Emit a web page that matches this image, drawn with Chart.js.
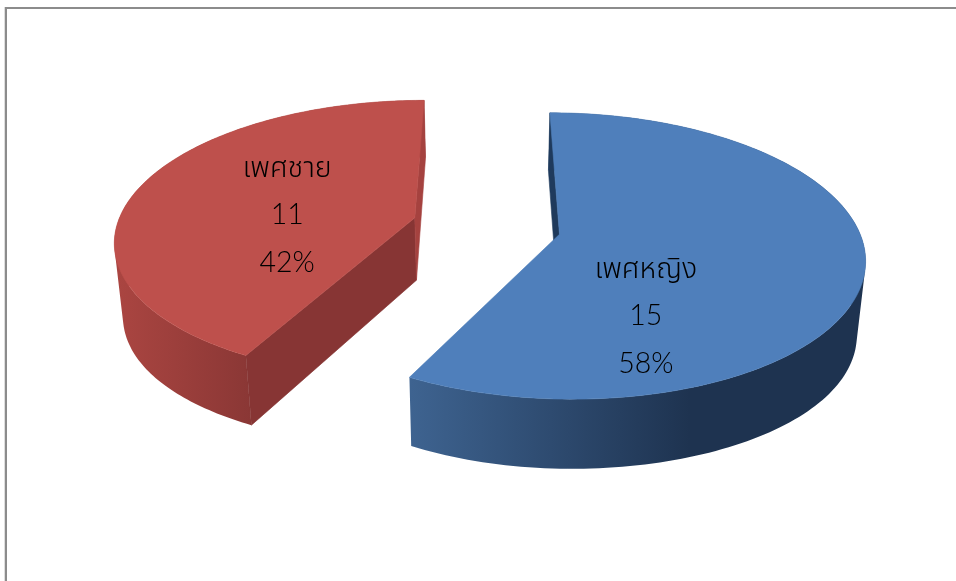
<!DOCTYPE html>
<html>
<head>
<meta charset="utf-8">
<style>
html,body{margin:0;padding:0;background:#fff;overflow:hidden}
#wrap{position:relative;width:956px;height:581px}
#frameTop{position:absolute;left:5px;right:0;top:7px;height:2px;background:#8c8c8c}
#frameLeft{position:absolute;left:5px;top:7px;bottom:0;width:2px;background:#8c8c8c;box-shadow:-1px 0 0 #dedede}
canvas{position:absolute;left:0;top:0}
</style>
<script src="https://cdn.jsdelivr.net/npm/chart.js@4"></script>
</head>
<body>
<div id="wrap">
<canvas id="c" width="956" height="581"></canvas>
<div id="frameTop"></div><div id="frameLeft"></div>
</div>
<script>
const categories = ['เพศหญิง', 'เพศชาย'];
const counts = [15, 11];
const percents = ['58%', '42%'];

const topColors = ['#4f7fbb', '#be504c'];
const startWallColors = ['#1f3a5c', '#873534'];
const endWallColors = [null, '#a5423f'];
const outerGradients = [
  {x0: 411, x1: 690, c0: '#3e6390', c1: '#1e3350'},
  {x0: 118, x1: 252, c0: '#aa4541', c1: '#8a3735'}
];
const labelAnchors = [{x: 0.487, y: -0.596}, {x: -0.677, y: 0.081}];

// Perspective camera for the tilted pie (radius-normalised pie coordinates → canvas)
const cam = {ox: 486.5, oy: 226, vy: -690, scale: 298, k: 0.15, explode: 0.25,
             depth: 62.6, depthPow: 0.61, bulge: 5.1, shrink: 0.977};

function project(X, Y, lower) {
  const w = 1 + cam.k * Y;
  let x = cam.ox + cam.scale * X / w;
  let y = cam.vy + (cam.oy - cam.vy) / w;
  if (lower) {
    x = cam.ox + (x - cam.ox) * cam.shrink;
    y += cam.depth / Math.pow(w, cam.depthPow) + cam.bulge * Math.pow(Math.abs(X), 3);
  }
  return [x, y];
}

function slicePoint(arc, angle, radius, lower) {
  const mid = (arc.startAngle + arc.endAngle) / 2;
  const X = cam.explode * Math.cos(mid) + radius * Math.cos(angle);
  const Y = -(cam.explode * Math.sin(mid) + radius * Math.sin(angle));
  return project(X, Y, lower);
}

function poly(ctx, pts, fill) {
  ctx.beginPath();
  pts.forEach((p, i) => i ? ctx.lineTo(p[0], p[1]) : ctx.moveTo(p[0], p[1]));
  ctx.closePath();
  ctx.fillStyle = fill;
  ctx.fill();
  ctx.strokeStyle = fill;
  ctx.lineWidth = 0.6;
  ctx.stroke();
}

function signedArea(q) {
  let a = 0;
  q.forEach((p, i) => {
    const r = q[(i + 1) % q.length];
    a += p[0] * r[1] - r[0] * p[1];
  });
  return a;
}

// Union of the swept rim quads in one path, so there are no seams between them
function sweep(ctx, up, low, fill) {
  ctx.beginPath();
  for (let n = 0; n < up.length - 1; n++) {
    let q = [up[n], up[n + 1], low[n + 1], low[n]];
    if (signedArea(q) < 0) q = q.reverse();
    q.forEach((p, i) => i ? ctx.lineTo(p[0], p[1]) : ctx.moveTo(p[0], p[1]));
    ctx.closePath();
  }
  ctx.fillStyle = fill;
  ctx.fill('nonzero');
}

function rim(arc, lower) {
  const pts = [];
  const n = 160;
  for (let i = 0; i <= n; i++) {
    pts.push(slicePoint(arc, arc.startAngle + (arc.endAngle - arc.startAngle) * i / n, 1, lower));
  }
  return pts;
}

const pie3d = {
  id: 'pie3d',
  beforeDatasetDraw(chart, args) {
    const ctx = chart.ctx;
    const arcs = chart.getDatasetMeta(args.index).data;
    ctx.save();
    arcs.forEach((arc, i) => {
      const a0 = slicePoint(arc, 0, 0, false), a1 = slicePoint(arc, 0, 0, true);
      const s0 = slicePoint(arc, arc.startAngle, 1, false), s1 = slicePoint(arc, arc.startAngle, 1, true);
      const e0 = slicePoint(arc, arc.endAngle, 1, false), e1 = slicePoint(arc, arc.endAngle, 1, true);
      // outer curved wall
      const g = outerGradients[i];
      const grad = ctx.createLinearGradient(g.x0, 0, g.x1, 0);
      grad.addColorStop(0, g.c0);
      grad.addColorStop(1, g.c1);
      const up = rim(arc, false), low = rim(arc, true);
      sweep(ctx, up, low, grad);
      // visible radial walls
      poly(ctx, [a0, s0, s1, a1], startWallColors[i]);
      if (endWallColors[i]) poly(ctx, [a0, e0, e1, a1], endWallColors[i]);
      // top surface
      poly(ctx, [a0].concat(up), topColors[i]);
    });
    // data labels
    ctx.fillStyle = '#000';
    ctx.font = '300 28.5px Lato, "Noto Sans Thai", "Noto Sans", sans-serif';
    ctx.textAlign = 'center';
    ctx.textBaseline = 'middle';
    arcs.forEach((arc, i) => {
      const p = project(labelAnchors[i].x, labelAnchors[i].y, false);
      [categories[i], String(counts[i]), percents[i]].forEach((t, j) => {
        ctx.fillText(t, p[0], p[1] + (j - 1) * 47.5);
      });
    });
    ctx.restore();
    return false;
  }
};

new Chart(document.getElementById('c'), {
  type: 'pie',
  data: {labels: categories, datasets: [{data: counts, backgroundColor: topColors, borderWidth: 0}]},
  options: {
    responsive: false,
    animation: false,
    rotation: 0,
    plugins: {legend: {display: false}, tooltip: {enabled: false}, title: {display: false}}
  },
  plugins: [pie3d]
});
</script>
</body>
</html>
